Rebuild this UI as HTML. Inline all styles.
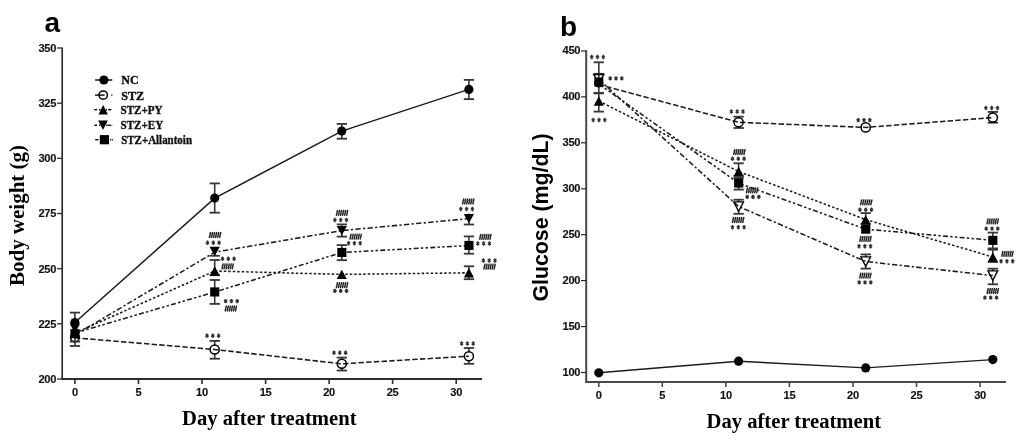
<!DOCTYPE html>
<html><head><meta charset="utf-8"><style>
html,body{margin:0;padding:0;background:#fff;width:1024px;height:443px;overflow:hidden}
svg{display:block;will-change:transform}
.tk{font-family:"Liberation Sans",sans-serif;font-weight:bold;font-size:11.7px;letter-spacing:-0.3px;fill:#111;stroke:#111;stroke-width:0.15px}
.pl{font-family:"Liberation Sans",sans-serif;font-weight:bold;font-size:28px;fill:#000}
.xt{font-family:"Liberation Serif",serif;font-weight:bold;font-size:21.6px;fill:#000}
.yt{font-family:"Liberation Sans",sans-serif;font-weight:bold;font-size:22.4px;fill:#000}
.lg{font-family:"Liberation Serif",serif;font-weight:bold;font-size:13.4px;fill:#111;stroke:#111;stroke-width:0.4px}
.hs{font-family:"Liberation Serif",serif;font-weight:bold;font-style:italic;font-size:9px;letter-spacing:-0.6px;fill:#111}
</style></head><body>
<svg width="1024" height="443" viewBox="0 0 1024 443">
<rect width="1024" height="443" fill="#fff"/>
<g>
<line x1="62.2" y1="47.6" x2="62.2" y2="379.8" stroke="#2e2e2e" stroke-width="1.7"/>
<line x1="61.4" y1="379" x2="482" y2="379" stroke="#2e2e2e" stroke-width="1.8"/>
<line x1="57" y1="48.0" x2="62" y2="48.0" stroke="#2e2e2e" stroke-width="1.3"/>
<text transform="translate(56.1,51.8) scale(0.95,1)" class="tk" text-anchor="end">350</text>
<line x1="57" y1="103.2" x2="62" y2="103.2" stroke="#2e2e2e" stroke-width="1.3"/>
<text transform="translate(56.1,107.0) scale(0.95,1)" class="tk" text-anchor="end">325</text>
<line x1="57" y1="158.3" x2="62" y2="158.3" stroke="#2e2e2e" stroke-width="1.3"/>
<text transform="translate(56.1,162.1) scale(0.95,1)" class="tk" text-anchor="end">300</text>
<line x1="57" y1="213.5" x2="62" y2="213.5" stroke="#2e2e2e" stroke-width="1.3"/>
<text transform="translate(56.1,217.3) scale(0.95,1)" class="tk" text-anchor="end">275</text>
<line x1="57" y1="268.7" x2="62" y2="268.7" stroke="#2e2e2e" stroke-width="1.3"/>
<text transform="translate(56.1,272.5) scale(0.95,1)" class="tk" text-anchor="end">250</text>
<line x1="57" y1="323.8" x2="62" y2="323.8" stroke="#2e2e2e" stroke-width="1.3"/>
<text transform="translate(56.1,327.6) scale(0.95,1)" class="tk" text-anchor="end">225</text>
<line x1="57" y1="379.0" x2="62" y2="379.0" stroke="#2e2e2e" stroke-width="1.3"/>
<text transform="translate(56.1,382.8) scale(0.95,1)" class="tk" text-anchor="end">200</text>
<line x1="74.9" y1="379" x2="74.9" y2="384" stroke="#2e2e2e" stroke-width="1.6"/>
<text transform="translate(74.9,395.6) scale(0.95,1)" class="tk" text-anchor="middle">0</text>
<line x1="138.5" y1="379" x2="138.5" y2="384" stroke="#2e2e2e" stroke-width="1.6"/>
<text transform="translate(138.5,395.6) scale(0.95,1)" class="tk" text-anchor="middle">5</text>
<line x1="202.0" y1="379" x2="202.0" y2="384" stroke="#2e2e2e" stroke-width="1.6"/>
<text transform="translate(202.0,395.6) scale(0.95,1)" class="tk" text-anchor="middle">10</text>
<line x1="265.6" y1="379" x2="265.6" y2="384" stroke="#2e2e2e" stroke-width="1.6"/>
<text transform="translate(265.6,395.6) scale(0.95,1)" class="tk" text-anchor="middle">15</text>
<line x1="329.1" y1="379" x2="329.1" y2="384" stroke="#2e2e2e" stroke-width="1.6"/>
<text transform="translate(329.1,395.6) scale(0.95,1)" class="tk" text-anchor="middle">20</text>
<line x1="392.6" y1="379" x2="392.6" y2="384" stroke="#2e2e2e" stroke-width="1.6"/>
<text transform="translate(392.6,395.6) scale(0.95,1)" class="tk" text-anchor="middle">25</text>
<line x1="456.2" y1="379" x2="456.2" y2="384" stroke="#2e2e2e" stroke-width="1.6"/>
<text transform="translate(456.2,395.6) scale(0.95,1)" class="tk" text-anchor="middle">30</text>
<text x="44.5" y="31.5" class="pl">a</text>
<text x="182.0" y="424.8" class="xt" textLength="174.5" lengthAdjust="spacingAndGlyphs">Day after treatment</text>
<text transform="translate(23.6,286) rotate(-90)" class="xt" style="font-size:20.6px" textLength="141" lengthAdjust="spacingAndGlyphs">Body weight (g)</text>
<polyline points="74.9,322.5 214.7,198.1 341.8,131.1 468.9,89.4" fill="none" stroke="#1c1c1c" stroke-width="1.5"/>
<polyline points="74.9,337.8 214.7,349.5 341.8,363.8 468.9,356.2" fill="none" stroke="#1c1c1c" stroke-width="1.55" stroke-dasharray="5.4 2.3"/>
<polyline points="74.9,333.0 214.7,271.0 341.8,274.4 468.9,272.8" fill="none" stroke="#1c1c1c" stroke-width="1.55" stroke-dasharray="2.5 2"/>
<polyline points="74.9,335.0 214.7,252.2 341.8,230.6 468.9,218.6" fill="none" stroke="#1c1c1c" stroke-width="1.55" stroke-dasharray="5.4 2.3 2.2 2.3"/>
<polyline points="74.9,333.0 214.7,292.0 341.8,252.5 468.9,245.5" fill="none" stroke="#1c1c1c" stroke-width="1.55" stroke-dasharray="5 2.3 2.4 2.3 2.4 2.3"/>
<line x1="74.9" y1="312.6" x2="74.9" y2="346.0" stroke="#363636" stroke-width="1.6"/>
<line x1="69.8" y1="312.6" x2="80.1" y2="312.6" stroke="#363636" stroke-width="1.8"/>
<line x1="69.8" y1="346.0" x2="80.1" y2="346.0" stroke="#363636" stroke-width="1.8"/>
<line x1="214.7" y1="183.4" x2="214.7" y2="212.7" stroke="#363636" stroke-width="1.6"/>
<line x1="209.6" y1="183.4" x2="219.9" y2="183.4" stroke="#363636" stroke-width="1.8"/>
<line x1="209.6" y1="212.7" x2="219.9" y2="212.7" stroke="#363636" stroke-width="1.8"/>
<line x1="341.8" y1="123.9" x2="341.8" y2="138.7" stroke="#363636" stroke-width="1.6"/>
<line x1="336.7" y1="123.9" x2="347.0" y2="123.9" stroke="#363636" stroke-width="1.8"/>
<line x1="336.7" y1="138.7" x2="347.0" y2="138.7" stroke="#363636" stroke-width="1.8"/>
<line x1="468.9" y1="79.9" x2="468.9" y2="99.1" stroke="#363636" stroke-width="1.6"/>
<line x1="463.8" y1="79.9" x2="474.1" y2="79.9" stroke="#363636" stroke-width="1.8"/>
<line x1="463.8" y1="99.1" x2="474.1" y2="99.1" stroke="#363636" stroke-width="1.8"/>
<line x1="214.7" y1="340.9" x2="214.7" y2="345.5" stroke="#363636" stroke-width="1.6"/>
<line x1="214.7" y1="353.5" x2="214.7" y2="358.7" stroke="#363636" stroke-width="1.6"/>
<line x1="209.6" y1="340.9" x2="219.9" y2="340.9" stroke="#363636" stroke-width="1.8"/>
<line x1="209.6" y1="358.7" x2="219.9" y2="358.7" stroke="#363636" stroke-width="1.8"/>
<line x1="341.8" y1="357.6" x2="341.8" y2="359.8" stroke="#363636" stroke-width="1.6"/>
<line x1="341.8" y1="367.8" x2="341.8" y2="370.5" stroke="#363636" stroke-width="1.6"/>
<line x1="336.7" y1="357.6" x2="347.0" y2="357.6" stroke="#363636" stroke-width="1.8"/>
<line x1="336.7" y1="370.5" x2="347.0" y2="370.5" stroke="#363636" stroke-width="1.8"/>
<line x1="468.9" y1="348.0" x2="468.9" y2="352.2" stroke="#363636" stroke-width="1.6"/>
<line x1="468.9" y1="360.2" x2="468.9" y2="363.8" stroke="#363636" stroke-width="1.6"/>
<line x1="463.8" y1="348.0" x2="474.1" y2="348.0" stroke="#363636" stroke-width="1.8"/>
<line x1="463.8" y1="363.8" x2="474.1" y2="363.8" stroke="#363636" stroke-width="1.8"/>
<line x1="214.7" y1="247.0" x2="214.7" y2="255.8" stroke="#363636" stroke-width="1.6"/>
<line x1="209.6" y1="255.8" x2="219.9" y2="255.8" stroke="#363636" stroke-width="1.8"/>
<line x1="214.7" y1="260.0" x2="214.7" y2="275.2" stroke="#363636" stroke-width="1.6"/>
<line x1="209.6" y1="260.0" x2="219.9" y2="260.0" stroke="#363636" stroke-width="1.8"/>
<line x1="209.6" y1="275.2" x2="219.9" y2="275.2" stroke="#363636" stroke-width="1.8"/>
<line x1="214.7" y1="280.0" x2="214.7" y2="303.9" stroke="#363636" stroke-width="1.6"/>
<line x1="209.6" y1="280.0" x2="219.9" y2="280.0" stroke="#363636" stroke-width="1.8"/>
<line x1="209.6" y1="303.9" x2="219.9" y2="303.9" stroke="#363636" stroke-width="1.8"/>
<line x1="341.8" y1="224.4" x2="341.8" y2="236.6" stroke="#363636" stroke-width="1.6"/>
<line x1="336.7" y1="224.4" x2="347.0" y2="224.4" stroke="#363636" stroke-width="1.8"/>
<line x1="336.7" y1="236.6" x2="347.0" y2="236.6" stroke="#363636" stroke-width="1.8"/>
<line x1="341.8" y1="245.1" x2="341.8" y2="260.2" stroke="#363636" stroke-width="1.6"/>
<line x1="336.7" y1="245.1" x2="347.0" y2="245.1" stroke="#363636" stroke-width="1.8"/>
<line x1="336.7" y1="260.2" x2="347.0" y2="260.2" stroke="#363636" stroke-width="1.8"/>
<line x1="468.9" y1="213.5" x2="468.9" y2="224.5" stroke="#363636" stroke-width="1.6"/>
<line x1="463.8" y1="224.5" x2="474.1" y2="224.5" stroke="#363636" stroke-width="1.8"/>
<line x1="468.9" y1="236.4" x2="468.9" y2="253.7" stroke="#363636" stroke-width="1.6"/>
<line x1="463.8" y1="236.4" x2="474.1" y2="236.4" stroke="#363636" stroke-width="1.8"/>
<line x1="463.8" y1="253.7" x2="474.1" y2="253.7" stroke="#363636" stroke-width="1.8"/>
<line x1="468.9" y1="266.3" x2="468.9" y2="279.2" stroke="#363636" stroke-width="1.6"/>
<line x1="463.8" y1="266.3" x2="474.1" y2="266.3" stroke="#363636" stroke-width="1.8"/>
<line x1="463.8" y1="279.2" x2="474.1" y2="279.2" stroke="#363636" stroke-width="1.8"/>
<circle cx="74.9" cy="337.6" r="4.3" fill="none" stroke="#000" stroke-width="1.6"/>
<rect x="70.4" y="329.1" width="9.1" height="9.1" fill="#000"/>
<polygon points="74.9,326.8 79.9,336.2 69.9,336.2" fill="#000"/>
<polygon points="69.8,323.8 80.0,323.8 74.9,333.2" fill="#000"/>
<circle cx="74.9" cy="322.5" r="4.6" fill="#000"/>
<line x1="69.8" y1="341.6" x2="80.1" y2="341.6" stroke="#363636" stroke-width="1.8"/>
<circle cx="214.7" cy="198.1" r="4.6" fill="#000"/>
<circle cx="214.7" cy="349.5" r="4.55" fill="none" stroke="#000" stroke-width="1.5"/>
<polygon points="214.7,266.3 219.7,275.7 209.7,275.7" fill="#000"/>
<polygon points="209.6,246.8 219.8,246.8 214.7,256.2" fill="#000"/>
<rect x="210.2" y="287.4" width="9.1" height="9.1" fill="#000"/>
<circle cx="341.8" cy="131.1" r="4.6" fill="#000"/>
<circle cx="341.8" cy="363.8" r="4.55" fill="none" stroke="#000" stroke-width="1.5"/>
<polygon points="341.8,269.7 346.8,279.1 336.8,279.1" fill="#000"/>
<polygon points="336.7,225.9 346.9,225.9 341.8,235.3" fill="#000"/>
<rect x="337.3" y="247.9" width="9.1" height="9.1" fill="#000"/>
<circle cx="468.9" cy="89.4" r="4.6" fill="#000"/>
<circle cx="468.9" cy="356.2" r="4.55" fill="none" stroke="#000" stroke-width="1.5"/>
<polygon points="468.9,268.1 473.9,277.5 463.9,277.5" fill="#000"/>
<polygon points="463.8,213.9 474.0,213.9 468.9,223.3" fill="#000"/>
<rect x="464.4" y="240.9" width="9.1" height="9.1" fill="#000"/>
<path d="M209.30,238.00L210.60,232.00M211.35,238.00L212.65,232.00M213.40,238.00L214.70,232.00M215.45,238.00L216.75,232.00M217.50,238.00L218.80,232.00M219.55,238.00L220.85,232.00" stroke="#1a1a1a" stroke-width="1.3" fill="none"/>
<path d="M209.00,233.90H221.10M208.70,236.20H220.80" stroke="#444" stroke-width="0.7" fill="none"/>
<path d="M207.5,240.5V244.9M205.9,241.7L209.1,243.7M205.9,243.7L209.1,241.7M213.3,240.5V244.9M211.7,241.7L214.9,243.7M211.7,243.7L214.9,241.7M219.1,240.5V244.9M217.5,241.7L220.7,243.7M217.5,243.7L220.7,241.7" stroke="#333" stroke-width="1.35" fill="none"/>
<circle cx="207.5" cy="242.7" r="1.0" fill="#333"/>
<circle cx="213.3" cy="242.7" r="1.0" fill="#333"/>
<circle cx="219.1" cy="242.7" r="1.0" fill="#333"/>
<path d="M222.5,256.5V260.9M220.9,257.7L224.1,259.7M220.9,259.7L224.1,257.7M228.3,256.5V260.9M226.7,257.7L229.9,259.7M226.7,259.7L229.9,257.7M234.1,256.5V260.9M232.5,257.7L235.7,259.7M232.5,259.7L235.7,257.7" stroke="#333" stroke-width="1.35" fill="none"/>
<circle cx="222.5" cy="258.7" r="1.0" fill="#333"/>
<circle cx="228.3" cy="258.7" r="1.0" fill="#333"/>
<circle cx="234.1" cy="258.7" r="1.0" fill="#333"/>
<path d="M221.90,269.40L223.20,263.40M223.95,269.40L225.25,263.40M226.00,269.40L227.30,263.40M228.05,269.40L229.35,263.40M230.10,269.40L231.40,263.40M232.15,269.40L233.45,263.40" stroke="#1a1a1a" stroke-width="1.3" fill="none"/>
<path d="M221.60,265.30H233.70M221.30,267.60H233.40" stroke="#444" stroke-width="0.7" fill="none"/>
<path d="M225.6,298.9V303.3M224.0,300.1L227.2,302.1M224.0,302.1L227.2,300.1M231.4,298.9V303.3M229.8,300.1L233.0,302.1M229.8,302.1L233.0,300.1M237.2,298.9V303.3M235.6,300.1L238.8,302.1M235.6,302.1L238.8,300.1" stroke="#333" stroke-width="1.35" fill="none"/>
<circle cx="225.6" cy="301.1" r="1.0" fill="#333"/>
<circle cx="231.4" cy="301.1" r="1.0" fill="#333"/>
<circle cx="237.2" cy="301.1" r="1.0" fill="#333"/>
<path d="M225.10,311.50L226.40,305.50M227.15,311.50L228.45,305.50M229.20,311.50L230.50,305.50M231.25,311.50L232.55,305.50M233.30,311.50L234.60,305.50M235.35,311.50L236.65,305.50" stroke="#1a1a1a" stroke-width="1.3" fill="none"/>
<path d="M224.80,307.40H236.90M224.50,309.70H236.60" stroke="#444" stroke-width="0.7" fill="none"/>
<path d="M207.0,333.6V338.0M205.4,334.8L208.6,336.8M205.4,336.8L208.6,334.8M212.8,333.6V338.0M211.2,334.8L214.4,336.8M211.2,336.8L214.4,334.8M218.6,333.6V338.0M217.0,334.8L220.2,336.8M217.0,336.8L220.2,334.8" stroke="#333" stroke-width="1.35" fill="none"/>
<circle cx="207.0" cy="335.8" r="1.0" fill="#333"/>
<circle cx="212.8" cy="335.8" r="1.0" fill="#333"/>
<circle cx="218.6" cy="335.8" r="1.0" fill="#333"/>
<path d="M336.30,215.90L337.60,209.90M338.35,215.90L339.65,209.90M340.40,215.90L341.70,209.90M342.45,215.90L343.75,209.90M344.50,215.90L345.80,209.90M346.55,215.90L347.85,209.90" stroke="#1a1a1a" stroke-width="1.3" fill="none"/>
<path d="M336.00,211.80H348.10M335.70,214.10H347.80" stroke="#444" stroke-width="0.7" fill="none"/>
<path d="M334.9,217.8V222.2M333.3,219.0L336.5,221.0M333.3,221.0L336.5,219.0M340.7,217.8V222.2M339.1,219.0L342.3,221.0M339.1,221.0L342.3,219.0M346.5,217.8V222.2M344.9,219.0L348.1,221.0M344.9,221.0L348.1,219.0" stroke="#333" stroke-width="1.35" fill="none"/>
<circle cx="334.9" cy="220.0" r="1.0" fill="#333"/>
<circle cx="340.7" cy="220.0" r="1.0" fill="#333"/>
<circle cx="346.5" cy="220.0" r="1.0" fill="#333"/>
<path d="M349.90,239.60L351.20,233.60M351.95,239.60L353.25,233.60M354.00,239.60L355.30,233.60M356.05,239.60L357.35,233.60M358.10,239.60L359.40,233.60M360.15,239.60L361.45,233.60" stroke="#1a1a1a" stroke-width="1.3" fill="none"/>
<path d="M349.60,235.50H361.70M349.30,237.80H361.40" stroke="#444" stroke-width="0.7" fill="none"/>
<path d="M348.6,241.1V245.5M347.0,242.3L350.2,244.3M347.0,244.3L350.2,242.3M354.4,241.1V245.5M352.8,242.3L356.0,244.3M352.8,244.3L356.0,242.3M360.2,241.1V245.5M358.6,242.3L361.8,244.3M358.6,244.3L361.8,242.3" stroke="#333" stroke-width="1.35" fill="none"/>
<circle cx="348.6" cy="243.3" r="1.0" fill="#333"/>
<circle cx="354.4" cy="243.3" r="1.0" fill="#333"/>
<circle cx="360.2" cy="243.3" r="1.0" fill="#333"/>
<path d="M336.30,288.20L337.60,282.20M338.35,288.20L339.65,282.20M340.40,288.20L341.70,282.20M342.45,288.20L343.75,282.20M344.50,288.20L345.80,282.20M346.55,288.20L347.85,282.20" stroke="#1a1a1a" stroke-width="1.3" fill="none"/>
<path d="M336.00,284.10H348.10M335.70,286.40H347.80" stroke="#444" stroke-width="0.7" fill="none"/>
<path d="M334.9,288.7V293.1M333.3,289.9L336.5,291.9M333.3,291.9L336.5,289.9M340.7,288.7V293.1M339.1,289.9L342.3,291.9M339.1,291.9L342.3,289.9M346.5,288.7V293.1M344.9,289.9L348.1,291.9M344.9,291.9L348.1,289.9" stroke="#333" stroke-width="1.35" fill="none"/>
<circle cx="334.9" cy="290.9" r="1.0" fill="#333"/>
<circle cx="340.7" cy="290.9" r="1.0" fill="#333"/>
<circle cx="346.5" cy="290.9" r="1.0" fill="#333"/>
<path d="M334.0,350.6V355.0M332.4,351.8L335.6,353.8M332.4,353.8L335.6,351.8M339.8,350.6V355.0M338.2,351.8L341.4,353.8M338.2,353.8L341.4,351.8M345.6,350.6V355.0M344.0,351.8L347.2,353.8M344.0,353.8L347.2,351.8" stroke="#333" stroke-width="1.35" fill="none"/>
<circle cx="334.0" cy="352.8" r="1.0" fill="#333"/>
<circle cx="339.8" cy="352.8" r="1.0" fill="#333"/>
<circle cx="345.6" cy="352.8" r="1.0" fill="#333"/>
<path d="M462.50,204.50L463.80,198.50M464.55,204.50L465.85,198.50M466.60,204.50L467.90,198.50M468.65,204.50L469.95,198.50M470.70,204.50L472.00,198.50M472.75,204.50L474.05,198.50" stroke="#1a1a1a" stroke-width="1.3" fill="none"/>
<path d="M462.20,200.40H474.30M461.90,202.70H474.00" stroke="#444" stroke-width="0.7" fill="none"/>
<path d="M460.8,206.8V211.2M459.2,208.0L462.4,210.0M459.2,210.0L462.4,208.0M466.6,206.8V211.2M465.0,208.0L468.2,210.0M465.0,210.0L468.2,208.0M472.4,206.8V211.2M470.8,208.0L474.0,210.0M470.8,210.0L474.0,208.0" stroke="#333" stroke-width="1.35" fill="none"/>
<circle cx="460.8" cy="209.0" r="1.0" fill="#333"/>
<circle cx="466.6" cy="209.0" r="1.0" fill="#333"/>
<circle cx="472.4" cy="209.0" r="1.0" fill="#333"/>
<path d="M479.60,239.80L480.90,233.80M481.65,239.80L482.95,233.80M483.70,239.80L485.00,233.80M485.75,239.80L487.05,233.80M487.80,239.80L489.10,233.80M489.85,239.80L491.15,233.80" stroke="#1a1a1a" stroke-width="1.3" fill="none"/>
<path d="M479.30,235.70H491.40M479.00,238.00H491.10" stroke="#444" stroke-width="0.7" fill="none"/>
<path d="M477.8,241.3V245.7M476.2,242.5L479.4,244.5M476.2,244.5L479.4,242.5M483.6,241.3V245.7M482.0,242.5L485.2,244.5M482.0,244.5L485.2,242.5M489.4,241.3V245.7M487.8,242.5L491.0,244.5M487.8,244.5L491.0,242.5" stroke="#333" stroke-width="1.35" fill="none"/>
<circle cx="477.8" cy="243.5" r="1.0" fill="#333"/>
<circle cx="483.6" cy="243.5" r="1.0" fill="#333"/>
<circle cx="489.4" cy="243.5" r="1.0" fill="#333"/>
<path d="M483.4,258.3V262.7M481.8,259.5L485.0,261.5M481.8,261.5L485.0,259.5M489.2,258.3V262.7M487.6,259.5L490.8,261.5M487.6,261.5L490.8,259.5M495.0,258.3V262.7M493.4,259.5L496.6,261.5M493.4,261.5L496.6,259.5" stroke="#333" stroke-width="1.35" fill="none"/>
<circle cx="483.4" cy="260.5" r="1.0" fill="#333"/>
<circle cx="489.2" cy="260.5" r="1.0" fill="#333"/>
<circle cx="495.0" cy="260.5" r="1.0" fill="#333"/>
<path d="M483.80,269.60L485.10,263.60M485.85,269.60L487.15,263.60M487.90,269.60L489.20,263.60M489.95,269.60L491.25,263.60M492.00,269.60L493.30,263.60M494.05,269.60L495.35,263.60" stroke="#1a1a1a" stroke-width="1.3" fill="none"/>
<path d="M483.50,265.50H495.60M483.20,267.80H495.30" stroke="#444" stroke-width="0.7" fill="none"/>
<path d="M461.6,341.3V345.7M460.0,342.5L463.2,344.5M460.0,344.5L463.2,342.5M467.4,341.3V345.7M465.8,342.5L469.0,344.5M465.8,344.5L469.0,342.5M473.2,341.3V345.7M471.6,342.5L474.8,344.5M471.6,344.5L474.8,342.5" stroke="#333" stroke-width="1.35" fill="none"/>
<circle cx="461.6" cy="343.5" r="1.0" fill="#333"/>
<circle cx="467.4" cy="343.5" r="1.0" fill="#333"/>
<circle cx="473.2" cy="343.5" r="1.0" fill="#333"/>
<line x1="95.1" y1="80.0" x2="112.3" y2="80.0" stroke="#000" stroke-width="1.4"/>
<text transform="translate(121.3,84.3) scale(0.895,1)" class="lg">NC</text>
<line x1="95.1" y1="95.1" x2="104.6" y2="95.1" stroke="#000" stroke-width="1.4"/>
<line x1="111.2" y1="95.1" x2="112.4" y2="95.1" stroke="#000" stroke-width="1.4"/>
<text transform="translate(121.2,99.6) scale(0.91,1)" class="lg">STZ</text>
<line x1="94.3" y1="109.7" x2="97.1" y2="109.7" stroke="#000" stroke-width="1.4"/>
<line x1="99" y1="109.7" x2="100.5" y2="109.7" stroke="#000" stroke-width="1.4"/>
<line x1="106" y1="109.7" x2="107" y2="109.7" stroke="#000" stroke-width="1.4"/>
<line x1="108.2" y1="109.7" x2="111.3" y2="109.7" stroke="#000" stroke-width="1.4"/>
<text transform="translate(120.5,113.7) scale(0.83,1)" class="lg">STZ+PY</text>
<line x1="94.3" y1="125.3" x2="97.0" y2="125.3" stroke="#000" stroke-width="1.4"/>
<line x1="99" y1="125.3" x2="100.2" y2="125.3" stroke="#000" stroke-width="1.4"/>
<line x1="106" y1="125.3" x2="106.8" y2="125.3" stroke="#000" stroke-width="1.4"/>
<line x1="107.4" y1="125.3" x2="110.8" y2="125.3" stroke="#000" stroke-width="1.4"/>
<line x1="111.6" y1="125.3" x2="112.2" y2="125.3" stroke="#000" stroke-width="1.4"/>
<text transform="translate(120.5,129.2) scale(0.83,1)" class="lg">STZ+EY</text>
<line x1="95.2" y1="139.7" x2="98.4" y2="139.7" stroke="#000" stroke-width="1.4"/>
<line x1="110" y1="139.7" x2="111.2" y2="139.7" stroke="#000" stroke-width="1.4"/>
<line x1="112" y1="139.7" x2="112.8" y2="139.7" stroke="#000" stroke-width="1.4"/>
<text transform="translate(121.2,143.5) scale(0.818,1)" class="lg">STZ+Allantoin</text>
<circle cx="103.9" cy="80.0" r="4.6" fill="#000"/>
<circle cx="103.2" cy="95.1" r="4.2" fill="none" stroke="#000" stroke-width="1.45"/>
<polygon points="103.2,105.0 107.9,114.5 98.5,114.5" fill="#000"/>
<polygon points="98.2,120.6 107.8,120.6 103.0,129.9" fill="#000"/>
<rect x="99.8" y="135.1" width="9.2" height="9.2" fill="#000"/>
</g>
<g>
<line x1="586.2" y1="50.2" x2="586.2" y2="383" stroke="#4a4a4a" stroke-width="2"/>
<line x1="585.2" y1="382" x2="1006" y2="382" stroke="#4a4a4a" stroke-width="2"/>
<line x1="581" y1="51.0" x2="586" y2="51.0" stroke="#222" stroke-width="1.15"/>
<text transform="translate(580.2,54.2) scale(0.95,1)" class="tk" text-anchor="end">450</text>
<line x1="581" y1="96.9" x2="586" y2="96.9" stroke="#222" stroke-width="1.15"/>
<text transform="translate(580.2,100.1) scale(0.95,1)" class="tk" text-anchor="end">400</text>
<line x1="581" y1="142.8" x2="586" y2="142.8" stroke="#222" stroke-width="1.15"/>
<text transform="translate(580.2,146.0) scale(0.95,1)" class="tk" text-anchor="end">350</text>
<line x1="581" y1="188.8" x2="586" y2="188.8" stroke="#222" stroke-width="1.15"/>
<text transform="translate(580.2,192.0) scale(0.95,1)" class="tk" text-anchor="end">300</text>
<line x1="581" y1="234.7" x2="586" y2="234.7" stroke="#222" stroke-width="1.15"/>
<text transform="translate(580.2,237.9) scale(0.95,1)" class="tk" text-anchor="end">250</text>
<line x1="581" y1="280.6" x2="586" y2="280.6" stroke="#222" stroke-width="1.15"/>
<text transform="translate(580.2,283.8) scale(0.95,1)" class="tk" text-anchor="end">200</text>
<line x1="581" y1="326.6" x2="586" y2="326.6" stroke="#222" stroke-width="1.15"/>
<text transform="translate(580.2,329.8) scale(0.95,1)" class="tk" text-anchor="end">150</text>
<line x1="581" y1="372.5" x2="586" y2="372.5" stroke="#222" stroke-width="1.15"/>
<text transform="translate(580.2,375.7) scale(0.95,1)" class="tk" text-anchor="end">100</text>
<line x1="598.8" y1="382" x2="598.8" y2="387" stroke="#4a4a4a" stroke-width="1.6"/>
<text transform="translate(598.8,398.7) scale(0.95,1)" class="tk" text-anchor="middle">0</text>
<line x1="662.3" y1="382" x2="662.3" y2="387" stroke="#4a4a4a" stroke-width="1.6"/>
<text transform="translate(662.3,398.7) scale(0.95,1)" class="tk" text-anchor="middle">5</text>
<line x1="725.9" y1="382" x2="725.9" y2="387" stroke="#4a4a4a" stroke-width="1.6"/>
<text transform="translate(725.9,398.7) scale(0.95,1)" class="tk" text-anchor="middle">10</text>
<line x1="789.4" y1="382" x2="789.4" y2="387" stroke="#4a4a4a" stroke-width="1.6"/>
<text transform="translate(789.4,398.7) scale(0.95,1)" class="tk" text-anchor="middle">15</text>
<line x1="853.0" y1="382" x2="853.0" y2="387" stroke="#4a4a4a" stroke-width="1.6"/>
<text transform="translate(853.0,398.7) scale(0.95,1)" class="tk" text-anchor="middle">20</text>
<line x1="916.5" y1="382" x2="916.5" y2="387" stroke="#4a4a4a" stroke-width="1.6"/>
<text transform="translate(916.5,398.7) scale(0.95,1)" class="tk" text-anchor="middle">25</text>
<line x1="980.1" y1="382" x2="980.1" y2="387" stroke="#4a4a4a" stroke-width="1.6"/>
<text transform="translate(980.1,398.7) scale(0.95,1)" class="tk" text-anchor="middle">30</text>
<text x="560" y="36.1" class="pl">b</text>
<text x="706.5" y="427.5" class="xt" textLength="174.5" lengthAdjust="spacingAndGlyphs">Day after treatment</text>
<text transform="translate(548,301.6) rotate(-90)" class="yt" textLength="168.2" lengthAdjust="spacingAndGlyphs">Glucose (mg/dL)</text>
<polyline points="598.8,372.8 738.6,361.2 865.7,367.9 992.8,359.6" fill="none" stroke="#1c1c1c" stroke-width="1.4"/>
<polyline points="598.8,84.5 738.6,122.3 865.7,127.4 992.8,117.6" fill="none" stroke="#1c1c1c" stroke-width="1.55" stroke-dasharray="5.4 2.3"/>
<polyline points="598.8,101.0 738.6,171.5 865.7,219.6 992.8,257.0" fill="none" stroke="#1c1c1c" stroke-width="1.55" stroke-dasharray="2.5 2"/>
<polyline points="598.8,79.5 738.6,206.5 865.7,261.5 992.8,275.6" fill="none" stroke="#1c1c1c" stroke-width="1.55" stroke-dasharray="5.4 2.3 2.2 2.3"/>
<polyline points="598.8,84.0 738.6,183.1 865.7,229.2 992.8,240.3" fill="none" stroke="#1c1c1c" stroke-width="1.55" stroke-dasharray="5 2.3 2.4 2.3 2.4 2.3"/>
<line x1="598.8" y1="62.3" x2="598.8" y2="93.4" stroke="#363636" stroke-width="1.6"/>
<line x1="593.6" y1="62.3" x2="603.9" y2="62.3" stroke="#363636" stroke-width="1.8"/>
<line x1="593.6" y1="73.8" x2="603.9" y2="73.8" stroke="#363636" stroke-width="1.8"/>
<line x1="593.6" y1="93.4" x2="603.9" y2="93.4" stroke="#363636" stroke-width="1.8"/>
<line x1="598.8" y1="92.9" x2="598.8" y2="111.6" stroke="#363636" stroke-width="1.6"/>
<line x1="593.6" y1="92.9" x2="603.9" y2="92.9" stroke="#363636" stroke-width="1.8"/>
<line x1="593.6" y1="111.6" x2="603.9" y2="111.6" stroke="#363636" stroke-width="1.8"/>
<line x1="738.6" y1="116.7" x2="738.6" y2="118.3" stroke="#363636" stroke-width="1.6"/>
<line x1="738.6" y1="126.3" x2="738.6" y2="128.0" stroke="#363636" stroke-width="1.6"/>
<line x1="733.5" y1="116.7" x2="743.8" y2="116.7" stroke="#363636" stroke-width="1.8"/>
<line x1="733.5" y1="128.0" x2="743.8" y2="128.0" stroke="#363636" stroke-width="1.8"/>
<line x1="738.6" y1="163.3" x2="738.6" y2="176.0" stroke="#363636" stroke-width="1.6"/>
<line x1="733.5" y1="163.3" x2="743.8" y2="163.3" stroke="#363636" stroke-width="1.8"/>
<line x1="733.5" y1="176.0" x2="743.8" y2="176.0" stroke="#363636" stroke-width="1.8"/>
<line x1="738.6" y1="178.0" x2="738.6" y2="189.6" stroke="#363636" stroke-width="1.6"/>
<line x1="733.5" y1="178.0" x2="743.8" y2="178.0" stroke="#363636" stroke-width="1.8"/>
<line x1="733.5" y1="189.6" x2="743.8" y2="189.6" stroke="#363636" stroke-width="1.8"/>
<line x1="738.6" y1="199.7" x2="738.6" y2="202.0" stroke="#363636" stroke-width="1.6"/>
<line x1="738.6" y1="210.7" x2="738.6" y2="213.8" stroke="#363636" stroke-width="1.6"/>
<line x1="733.5" y1="199.7" x2="743.8" y2="199.7" stroke="#363636" stroke-width="1.8"/>
<line x1="733.5" y1="213.8" x2="743.8" y2="213.8" stroke="#363636" stroke-width="1.8"/>
<line x1="865.7" y1="213.1" x2="865.7" y2="224.0" stroke="#363636" stroke-width="1.6"/>
<line x1="860.6" y1="213.1" x2="870.9" y2="213.1" stroke="#363636" stroke-width="1.8"/>
<line x1="860.6" y1="224.0" x2="870.9" y2="224.0" stroke="#363636" stroke-width="1.8"/>
<line x1="865.7" y1="254.4" x2="865.7" y2="257.0" stroke="#363636" stroke-width="1.6"/>
<line x1="865.7" y1="265.7" x2="865.7" y2="268.6" stroke="#363636" stroke-width="1.6"/>
<line x1="860.6" y1="254.4" x2="870.9" y2="254.4" stroke="#363636" stroke-width="1.8"/>
<line x1="860.6" y1="268.6" x2="870.9" y2="268.6" stroke="#363636" stroke-width="1.8"/>
<line x1="992.8" y1="111.9" x2="992.8" y2="113.6" stroke="#363636" stroke-width="1.6"/>
<line x1="992.8" y1="121.6" x2="992.8" y2="122.7" stroke="#363636" stroke-width="1.6"/>
<line x1="987.7" y1="111.9" x2="998.0" y2="111.9" stroke="#363636" stroke-width="1.8"/>
<line x1="987.7" y1="122.7" x2="998.0" y2="122.7" stroke="#363636" stroke-width="1.8"/>
<line x1="992.8" y1="232.6" x2="992.8" y2="248.4" stroke="#363636" stroke-width="1.6"/>
<line x1="987.7" y1="232.6" x2="998.0" y2="232.6" stroke="#363636" stroke-width="1.8"/>
<line x1="987.7" y1="248.4" x2="998.0" y2="248.4" stroke="#363636" stroke-width="1.8"/>
<line x1="992.8" y1="249.7" x2="992.8" y2="262.0" stroke="#363636" stroke-width="1.6"/>
<line x1="987.7" y1="249.7" x2="998.0" y2="249.7" stroke="#363636" stroke-width="1.8"/>
<line x1="987.7" y1="262.0" x2="998.0" y2="262.0" stroke="#363636" stroke-width="1.8"/>
<line x1="992.8" y1="268.7" x2="992.8" y2="271.1" stroke="#363636" stroke-width="1.6"/>
<line x1="992.8" y1="279.8" x2="992.8" y2="284.3" stroke="#363636" stroke-width="1.6"/>
<line x1="987.7" y1="268.7" x2="998.0" y2="268.7" stroke="#363636" stroke-width="1.8"/>
<line x1="987.7" y1="284.3" x2="998.0" y2="284.3" stroke="#363636" stroke-width="1.8"/>
<rect x="594.3" y="77.5" width="9" height="9" fill="#000"/>
<circle cx="598.8" cy="83.0" r="4.6" fill="#000"/>
<polygon points="593.8,74.5 603.8,74.5 598.8,83.5" fill="none" stroke="#000" stroke-width="1.5" stroke-linejoin="miter"/>
<polygon points="598.8,96.3 603.8,105.7 593.8,105.7" fill="#000"/>
<circle cx="738.6" cy="122.3" r="4.6" fill="none" stroke="#000" stroke-width="1.5"/>
<polygon points="738.6,166.8 743.6,176.2 733.6,176.2" fill="#000"/>
<rect x="734.1" y="178.5" width="9.1" height="9.1" fill="#000"/>
<polygon points="733.7,201.8 743.5,201.8 738.6,211.2" fill="none" stroke="#000" stroke-width="1.35" stroke-linejoin="miter"/>
<circle cx="865.7" cy="127.4" r="4.6" fill="none" stroke="#000" stroke-width="1.5"/>
<polygon points="865.7,214.9 870.7,224.3 860.7,224.3" fill="#000"/>
<rect x="861.2" y="224.6" width="9.1" height="9.1" fill="#000"/>
<polygon points="860.8,256.8 870.6,256.8 865.7,266.2" fill="none" stroke="#000" stroke-width="1.35" stroke-linejoin="miter"/>
<circle cx="992.8" cy="117.6" r="4.6" fill="none" stroke="#000" stroke-width="1.5"/>
<polygon points="992.8,252.3 997.8,261.7 987.8,261.7" fill="#000"/>
<rect x="988.3" y="235.8" width="9.1" height="9.1" fill="#000"/>
<polygon points="987.9,270.9 997.7,270.9 992.8,280.3" fill="none" stroke="#000" stroke-width="1.35" stroke-linejoin="miter"/>
<circle cx="598.8" cy="372.8" r="4.6" fill="#000"/>
<circle cx="738.6" cy="361.2" r="4.6" fill="#000"/>
<circle cx="865.7" cy="367.9" r="4.6" fill="#000"/>
<circle cx="992.8" cy="359.6" r="4.6" fill="#000"/>
<path d="M591.7,54.8V59.2M590.1,56.0L593.3,58.0M590.1,58.0L593.3,56.0M597.5,54.8V59.2M595.9,56.0L599.1,58.0M595.9,58.0L599.1,56.0M603.3,54.8V59.2M601.7,56.0L604.9,58.0M601.7,58.0L604.9,56.0" stroke="#333" stroke-width="1.35" fill="none"/>
<circle cx="591.7" cy="57.0" r="1.0" fill="#333"/>
<circle cx="597.5" cy="57.0" r="1.0" fill="#333"/>
<circle cx="603.3" cy="57.0" r="1.0" fill="#333"/>
<path d="M610.2,76.2V80.6M608.6,77.4L611.8,79.4M608.6,79.4L611.8,77.4M616.0,76.2V80.6M614.4,77.4L617.6,79.4M614.4,79.4L617.6,77.4M621.8,76.2V80.6M620.2,77.4L623.4,79.4M620.2,79.4L623.4,77.4" stroke="#333" stroke-width="1.35" fill="none"/>
<circle cx="610.2" cy="78.4" r="1.0" fill="#333"/>
<circle cx="616.0" cy="78.4" r="1.0" fill="#333"/>
<circle cx="621.8" cy="78.4" r="1.0" fill="#333"/>
<path d="M593.2,117.8V122.2M591.6,119.0L594.8,121.0M591.6,121.0L594.8,119.0M599.0,117.8V122.2M597.4,119.0L600.6,121.0M597.4,121.0L600.6,119.0M604.8,117.8V122.2M603.2,119.0L606.4,121.0M603.2,121.0L606.4,119.0" stroke="#333" stroke-width="1.35" fill="none"/>
<circle cx="593.2" cy="120.0" r="1.0" fill="#333"/>
<circle cx="599.0" cy="120.0" r="1.0" fill="#333"/>
<circle cx="604.8" cy="120.0" r="1.0" fill="#333"/>
<path d="M731.4,109.3V113.7M729.8,110.5L733.0,112.5M729.8,112.5L733.0,110.5M737.2,109.3V113.7M735.6,110.5L738.8,112.5M735.6,112.5L738.8,110.5M743.0,109.3V113.7M741.4,110.5L744.6,112.5M741.4,112.5L744.6,110.5" stroke="#333" stroke-width="1.35" fill="none"/>
<circle cx="731.4" cy="111.5" r="1.0" fill="#333"/>
<circle cx="737.2" cy="111.5" r="1.0" fill="#333"/>
<circle cx="743.0" cy="111.5" r="1.0" fill="#333"/>
<path d="M733.60,155.00L734.90,149.00M735.65,155.00L736.95,149.00M737.70,155.00L739.00,149.00M739.75,155.00L741.05,149.00M741.80,155.00L743.10,149.00M743.85,155.00L745.15,149.00" stroke="#1a1a1a" stroke-width="1.3" fill="none"/>
<path d="M733.30,150.90H745.40M733.00,153.20H745.10" stroke="#444" stroke-width="0.7" fill="none"/>
<path d="M732.5,156.6V161.0M730.9,157.8L734.1,159.8M730.9,159.8L734.1,157.8M738.3,156.6V161.0M736.7,157.8L739.9,159.8M736.7,159.8L739.9,157.8M744.1,156.6V161.0M742.5,157.8L745.7,159.8M742.5,159.8L745.7,157.8" stroke="#333" stroke-width="1.35" fill="none"/>
<circle cx="732.5" cy="158.8" r="1.0" fill="#333"/>
<circle cx="738.3" cy="158.8" r="1.0" fill="#333"/>
<circle cx="744.1" cy="158.8" r="1.0" fill="#333"/>
<path d="M746.30,193.40L747.60,187.40M748.35,193.40L749.65,187.40M750.40,193.40L751.70,187.40M752.45,193.40L753.75,187.40M754.50,193.40L755.80,187.40M756.55,193.40L757.85,187.40" stroke="#1a1a1a" stroke-width="1.3" fill="none"/>
<path d="M746.00,189.30H758.10M745.70,191.60H757.80" stroke="#444" stroke-width="0.7" fill="none"/>
<path d="M747.2,194.7V199.1M745.6,195.9L748.8,197.9M745.6,197.9L748.8,195.9M753.0,194.7V199.1M751.4,195.9L754.6,197.9M751.4,197.9L754.6,195.9M758.8,194.7V199.1M757.2,195.9L760.4,197.9M757.2,197.9L760.4,195.9" stroke="#333" stroke-width="1.35" fill="none"/>
<circle cx="747.2" cy="196.9" r="1.0" fill="#333"/>
<circle cx="753.0" cy="196.9" r="1.0" fill="#333"/>
<circle cx="758.8" cy="196.9" r="1.0" fill="#333"/>
<path d="M732.40,223.00L733.70,217.00M734.45,223.00L735.75,217.00M736.50,223.00L737.80,217.00M738.55,223.00L739.85,217.00M740.60,223.00L741.90,217.00M742.65,223.00L743.95,217.00" stroke="#1a1a1a" stroke-width="1.3" fill="none"/>
<path d="M732.10,218.90H744.20M731.80,221.20H743.90" stroke="#444" stroke-width="0.7" fill="none"/>
<path d="M732.5,225.1V229.5M730.9,226.3L734.1,228.3M730.9,228.3L734.1,226.3M738.3,225.1V229.5M736.7,226.3L739.9,228.3M736.7,228.3L739.9,226.3M744.1,225.1V229.5M742.5,226.3L745.7,228.3M742.5,228.3L745.7,226.3" stroke="#333" stroke-width="1.35" fill="none"/>
<circle cx="732.5" cy="227.3" r="1.0" fill="#333"/>
<circle cx="738.3" cy="227.3" r="1.0" fill="#333"/>
<circle cx="744.1" cy="227.3" r="1.0" fill="#333"/>
<path d="M858.2,117.9V122.3M856.6,119.1L859.8,121.1M856.6,121.1L859.8,119.1M864.0,117.9V122.3M862.4,119.1L865.6,121.1M862.4,121.1L865.6,119.1M869.8,117.9V122.3M868.2,119.1L871.4,121.1M868.2,121.1L871.4,119.1" stroke="#333" stroke-width="1.35" fill="none"/>
<circle cx="858.2" cy="120.1" r="1.0" fill="#333"/>
<circle cx="864.0" cy="120.1" r="1.0" fill="#333"/>
<circle cx="869.8" cy="120.1" r="1.0" fill="#333"/>
<path d="M860.50,205.30L861.80,199.30M862.55,205.30L863.85,199.30M864.60,205.30L865.90,199.30M866.65,205.30L867.95,199.30M868.70,205.30L870.00,199.30M870.75,205.30L872.05,199.30" stroke="#1a1a1a" stroke-width="1.3" fill="none"/>
<path d="M860.20,201.20H872.30M859.90,203.50H872.00" stroke="#444" stroke-width="0.7" fill="none"/>
<path d="M859.9,207.5V211.9M858.3,208.7L861.5,210.7M858.3,210.7L861.5,208.7M865.7,207.5V211.9M864.1,208.7L867.3,210.7M864.1,210.7L867.3,208.7M871.5,207.5V211.9M869.9,208.7L873.1,210.7M869.9,210.7L873.1,208.7" stroke="#333" stroke-width="1.35" fill="none"/>
<circle cx="859.9" cy="209.7" r="1.0" fill="#333"/>
<circle cx="865.7" cy="209.7" r="1.0" fill="#333"/>
<circle cx="871.5" cy="209.7" r="1.0" fill="#333"/>
<path d="M859.70,241.80L861.00,235.80M861.75,241.80L863.05,235.80M863.80,241.80L865.10,235.80M865.85,241.80L867.15,235.80M867.90,241.80L869.20,235.80M869.95,241.80L871.25,235.80" stroke="#1a1a1a" stroke-width="1.3" fill="none"/>
<path d="M859.40,237.70H871.50M859.10,240.00H871.20" stroke="#444" stroke-width="0.7" fill="none"/>
<path d="M859.0,244.1V248.5M857.4,245.3L860.6,247.3M857.4,247.3L860.6,245.3M864.8,244.1V248.5M863.2,245.3L866.4,247.3M863.2,247.3L866.4,245.3M870.6,244.1V248.5M869.0,245.3L872.2,247.3M869.0,247.3L872.2,245.3" stroke="#333" stroke-width="1.35" fill="none"/>
<circle cx="859.0" cy="246.3" r="1.0" fill="#333"/>
<circle cx="864.8" cy="246.3" r="1.0" fill="#333"/>
<circle cx="870.6" cy="246.3" r="1.0" fill="#333"/>
<path d="M859.60,278.60L860.90,272.60M861.65,278.60L862.95,272.60M863.70,278.60L865.00,272.60M865.75,278.60L867.05,272.60M867.80,278.60L869.10,272.60M869.85,278.60L871.15,272.60" stroke="#1a1a1a" stroke-width="1.3" fill="none"/>
<path d="M859.30,274.50H871.40M859.00,276.80H871.10" stroke="#444" stroke-width="0.7" fill="none"/>
<path d="M859.2,280.2V284.6M857.6,281.4L860.8,283.4M857.6,283.4L860.8,281.4M865.0,280.2V284.6M863.4,281.4L866.6,283.4M863.4,283.4L866.6,281.4M870.8,280.2V284.6M869.2,281.4L872.4,283.4M869.2,283.4L872.4,281.4" stroke="#333" stroke-width="1.35" fill="none"/>
<circle cx="859.2" cy="282.4" r="1.0" fill="#333"/>
<circle cx="865.0" cy="282.4" r="1.0" fill="#333"/>
<circle cx="870.8" cy="282.4" r="1.0" fill="#333"/>
<path d="M985.9,105.8V110.2M984.3,107.0L987.5,109.0M984.3,109.0L987.5,107.0M991.7,105.8V110.2M990.1,107.0L993.3,109.0M990.1,109.0L993.3,107.0M997.5,105.8V110.2M995.9,107.0L999.1,109.0M995.9,109.0L999.1,107.0" stroke="#333" stroke-width="1.35" fill="none"/>
<circle cx="985.9" cy="108.0" r="1.0" fill="#333"/>
<circle cx="991.7" cy="108.0" r="1.0" fill="#333"/>
<circle cx="997.5" cy="108.0" r="1.0" fill="#333"/>
<path d="M986.90,224.30L988.20,218.30M988.95,224.30L990.25,218.30M991.00,224.30L992.30,218.30M993.05,224.30L994.35,218.30M995.10,224.30L996.40,218.30M997.15,224.30L998.45,218.30" stroke="#1a1a1a" stroke-width="1.3" fill="none"/>
<path d="M986.60,220.20H998.70M986.30,222.50H998.40" stroke="#444" stroke-width="0.7" fill="none"/>
<path d="M986.2,226.4V230.8M984.6,227.6L987.8,229.6M984.6,229.6L987.8,227.6M992.0,226.4V230.8M990.4,227.6L993.6,229.6M990.4,229.6L993.6,227.6M997.8,226.4V230.8M996.2,227.6L999.4,229.6M996.2,229.6L999.4,227.6" stroke="#333" stroke-width="1.35" fill="none"/>
<circle cx="986.2" cy="228.6" r="1.0" fill="#333"/>
<circle cx="992.0" cy="228.6" r="1.0" fill="#333"/>
<circle cx="997.8" cy="228.6" r="1.0" fill="#333"/>
<path d="M1001.70,256.80L1003.00,250.80M1003.75,256.80L1005.05,250.80M1005.80,256.80L1007.10,250.80M1007.85,256.80L1009.15,250.80M1009.90,256.80L1011.20,250.80M1011.95,256.80L1013.25,250.80" stroke="#1a1a1a" stroke-width="1.3" fill="none"/>
<path d="M1001.40,252.70H1013.50M1001.10,255.00H1013.20" stroke="#444" stroke-width="0.7" fill="none"/>
<path d="M1001.1,259.1V263.5M999.5,260.3L1002.7,262.3M999.5,262.3L1002.7,260.3M1006.9,259.1V263.5M1005.3,260.3L1008.5,262.3M1005.3,262.3L1008.5,260.3M1012.7,259.1V263.5M1011.1,260.3L1014.3,262.3M1011.1,262.3L1014.3,260.3" stroke="#333" stroke-width="1.35" fill="none"/>
<circle cx="1001.1" cy="261.3" r="1.0" fill="#333"/>
<circle cx="1006.9" cy="261.3" r="1.0" fill="#333"/>
<circle cx="1012.7" cy="261.3" r="1.0" fill="#333"/>
<path d="M987.00,294.00L988.30,288.00M989.05,294.00L990.35,288.00M991.10,294.00L992.40,288.00M993.15,294.00L994.45,288.00M995.20,294.00L996.50,288.00M997.25,294.00L998.55,288.00" stroke="#1a1a1a" stroke-width="1.3" fill="none"/>
<path d="M986.70,289.90H998.80M986.40,292.20H998.50" stroke="#444" stroke-width="0.7" fill="none"/>
<path d="M984.9,295.4V299.8M983.3,296.6L986.5,298.6M983.3,298.6L986.5,296.6M990.7,295.4V299.8M989.1,296.6L992.3,298.6M989.1,298.6L992.3,296.6M996.5,295.4V299.8M994.9,296.6L998.1,298.6M994.9,298.6L998.1,296.6" stroke="#333" stroke-width="1.35" fill="none"/>
<circle cx="984.9" cy="297.6" r="1.0" fill="#333"/>
<circle cx="990.7" cy="297.6" r="1.0" fill="#333"/>
<circle cx="996.5" cy="297.6" r="1.0" fill="#333"/>
</g>
</svg>
</body></html>
